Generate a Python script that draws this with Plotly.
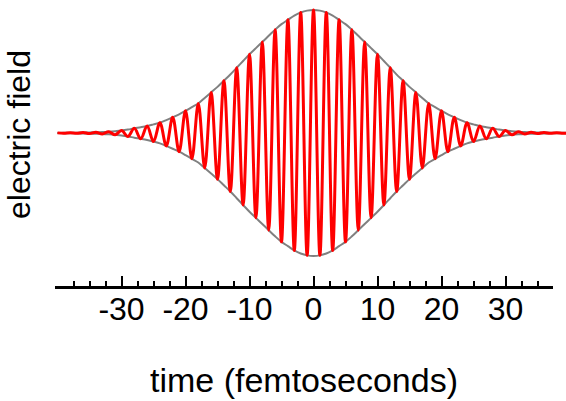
import plotly.graph_objects as go

# ---- data ----
times = list(range(-40, 41))  # femtoseconds, one extremum per fs (period ~2 fs)

envelope = [0.001, 0.002, 0.002, 0.003, 0.004, 0.005, 0.006, 0.008, 0.011, 0.015,
            0.02, 0.028, 0.038, 0.047, 0.057, 0.07, 0.084, 0.105, 0.128, 0.152,
            0.18, 0.21, 0.24, 0.285, 0.33, 0.375, 0.425, 0.475, 0.53, 0.585,
            0.64, 0.69, 0.74, 0.79, 0.84, 0.885, 0.92, 0.955, 0.98, 0.995,
            1.0,
            0.995, 0.98, 0.955, 0.92, 0.885, 0.84, 0.79, 0.74, 0.69, 0.64,
            0.585, 0.53, 0.475, 0.425, 0.375, 0.33, 0.285, 0.24, 0.21, 0.18,
            0.152, 0.128, 0.105, 0.084, 0.07, 0.057, 0.047, 0.038, 0.028, 0.02,
            0.015, 0.011, 0.008, 0.006, 0.005, 0.004, 0.003, 0.002, 0.002, 0.001]

field = [0.001, -0.002, 0.002, -0.003, 0.004, -0.005, 0.006, -0.008, 0.011, -0.015,
         0.02, -0.028, 0.038, -0.047, 0.057, -0.07, 0.084, -0.105, 0.128, -0.152,
         0.18, -0.21, 0.24, -0.285, 0.33, -0.375, 0.425, -0.475, 0.53, -0.585,
         0.64, -0.69, 0.74, -0.79, 0.84, -0.885, 0.92, -0.955, 0.98, -0.995,
         1.0,
         -0.995, 0.98, -0.955, 0.92, -0.885, 0.84, -0.79, 0.74, -0.69, 0.64,
         -0.585, 0.53, -0.475, 0.425, -0.375, 0.33, -0.285, 0.24, -0.21, 0.18,
         -0.152, 0.128, -0.105, 0.084, -0.07, 0.057, -0.047, 0.038, -0.028, 0.02,
         -0.015, 0.011, -0.008, 0.006, -0.005, 0.004, -0.003, 0.002, -0.002, 0.001]

tick_values = [-30, -20, -10, 0, 10, 20, 30]
tick_labels = ["-30", "-20", "-10", "0", "10", "20", "30"]
minor_values = [v / 2 for v in range(-75, 76, 5) if v % 20 != 0]

# ---- layout geometry ----
W, H = 566, 401
LEFT = 55          # plot left edge (px)
AXIS_END = 553     # where the drawn time axis stops (px)
ZERO_PX = 313.5    # pixel of t = 0
PX_PER_FS = 6.4
AXIS_Y = 286       # pixel row of the time axis line
LABEL_ROW = 287    # reference row from which tick labels hang
CENTER_Y = 133     # pixel row of zero field
AMP_PX = 123       # pixels for unit amplitude

x_range = [(LEFT - ZERO_PX) / PX_PER_FS, (W - ZERO_PX) / PX_PER_FS]
x2_range = [x_range[0], (AXIS_END - ZERO_PX) / PX_PER_FS]
x2_domain = [0, (AXIS_END - LEFT) / (W - LEFT)]
y_range = [(CENTER_Y - AXIS_Y) / AMP_PX, CENTER_Y / AMP_PX]

font_family = "Liberation Sans, Arial, sans-serif"

fig = go.Figure()

fig.add_trace(go.Scatter(x=times, y=envelope, mode="lines",
                         line=dict(color="#808080", width=2, shape="spline"),
                         hoverinfo="skip", showlegend=False))
fig.add_trace(go.Scatter(x=times, y=[-v for v in envelope], mode="lines",
                         line=dict(color="#808080", width=2, shape="spline"),
                         hoverinfo="skip", showlegend=False))
fig.add_trace(go.Scatter(x=times, y=field, mode="lines",
                         line=dict(color="#ff0000", width=3, shape="spline", smoothing=1),
                         showlegend=False, name="electric field"))
# carriers for the visible time axis (line + ticks) and its labels
fig.add_trace(go.Scatter(x=[], y=[], xaxis="x2", yaxis="y", showlegend=False, hoverinfo="skip"))
fig.add_trace(go.Scatter(x=[], y=[], xaxis="x3", yaxis="y3", showlegend=False, hoverinfo="skip"))

fig.update_layout(
    width=W, height=H,
    margin=dict(l=LEFT, r=0, t=0, b=0),
    paper_bgcolor="white", plot_bgcolor="rgba(0,0,0,0)",
    font=dict(family=font_family, color="black"),
    xaxis=dict(domain=[0, 1], range=x_range, visible=False, fixedrange=True),
    xaxis2=dict(domain=x2_domain, range=x2_range, anchor="y",
                showline=True, linecolor="black", linewidth=3,
                showgrid=False, zeroline=False, showticklabels=False,
                tickmode="array", tickvals=tick_values,
                ticks="inside", ticklen=10, tickwidth=2, tickcolor="black",
                minor=dict(tickmode="array", tickvals=minor_values, ticks="inside",
                           ticklen=5, tickwidth=2, tickcolor="black", showgrid=False),
                fixedrange=True),
    xaxis3=dict(domain=x2_domain, range=x2_range, anchor="y3",
                showline=False, showgrid=False, zeroline=False, ticks="",
                tickmode="array", tickvals=tick_values, ticktext=tick_labels,
                tickfont=dict(size=32, family=font_family, color="black"),
                automargin=True,
                title=dict(text="time (femtoseconds)", standoff=42,
                           font=dict(size=34, family=font_family, color="black")),
                fixedrange=True),
    yaxis=dict(domain=[(H - AXIS_Y) / H, 1], range=y_range,
               showline=False, showgrid=False, zeroline=False,
               showticklabels=False, ticks="", fixedrange=True),
    yaxis3=dict(domain=[(H - LABEL_ROW) / H, 1], range=[0, 1], visible=False,
                anchor="x3", fixedrange=True),
    annotations=[dict(text="electric field", textangle=-90, xref="paper", yref="paper",
                      x=(19 - LEFT) / (W - LEFT), y=1 - 135 / H,
                      xanchor="center", yanchor="middle",
                      showarrow=False,
                      font=dict(size=32, family=font_family, color="black"))],
)

fig.write_html("out.html")
